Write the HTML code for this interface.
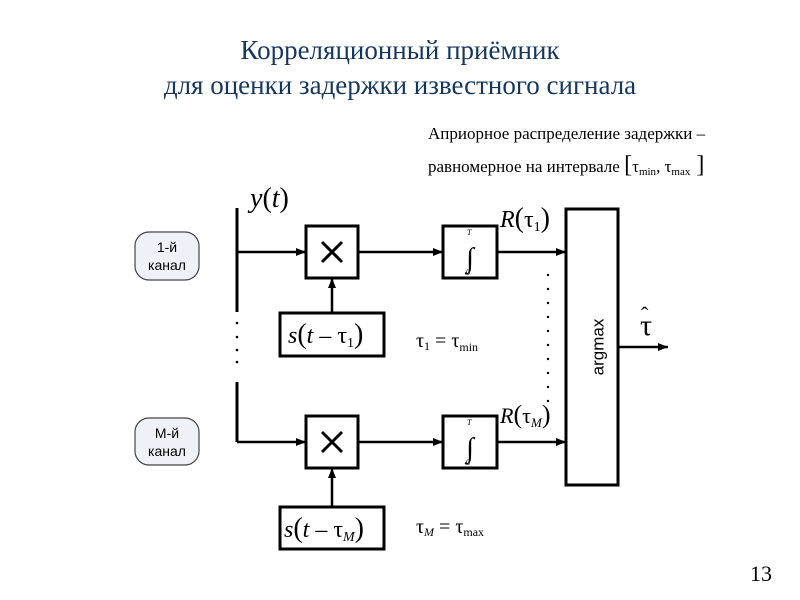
<!DOCTYPE html>
<html><head><meta charset="utf-8"><style>body{margin:0;background:#fff}svg{display:block}</style></head><body>
<svg width="800" height="600" xmlns="http://www.w3.org/2000/svg">
<defs><marker id="a" markerWidth="10" markerHeight="8" refX="10" refY="4" orient="auto" markerUnits="userSpaceOnUse"><path d="M0,0 L10,4 L0,8 z" fill="#000"/></marker></defs>
<g font-family="Liberation Serif, serif" fill="#17365d" font-size="27" text-anchor="middle">
<text x="400" y="59">Корреляционный приёмник</text>
<text x="400" y="94">для оценки задержки известного сигнала</text>
</g>
<g font-family="Liberation Serif, serif" font-size="17" fill="#000">
<text x="428" y="139">Априорное распределение задержки  –</text>
<text x="428" y="172">равномерное на интервале <tspan font-size="24">[</tspan>τ<tspan font-size="11" dy="3">min</tspan><tspan dy="-3">, τ</tspan><tspan font-size="11" dy="3">max</tspan><tspan dy="-3" font-size="24"> ]</tspan></text>
</g>
<g stroke="#000" stroke-width="3" fill="none">
<rect x="306" y="226" width="52" height="52" fill="#fff"/>
<rect x="443" y="226" width="54" height="52" fill="#fff"/>
<rect x="306" y="416" width="52" height="52" fill="#fff"/>
<rect x="443" y="416" width="54" height="52" fill="#fff"/>
<rect x="280" y="313" width="104" height="43"/>
<rect x="280" y="507" width="104" height="42"/>
<rect x="566" y="209" width="52" height="276"/>
<line x1="237" y1="208" x2="237" y2="312"/>
<line x1="237" y1="382" x2="237" y2="442"/>
</g>
<g stroke="#000" stroke-width="2.5" marker-end="url(#a)">
<line x1="237" y1="252" x2="306" y2="252"/>
<line x1="358" y1="252" x2="443" y2="252"/>
<line x1="497" y1="252" x2="566" y2="252"/>
<line x1="332" y1="313" x2="332" y2="278"/>
<line x1="237" y1="442" x2="306" y2="442"/>
<line x1="358" y1="442" x2="443" y2="442"/>
<line x1="497" y1="442" x2="566" y2="442"/>
<line x1="332" y1="507" x2="332" y2="468"/>
<line x1="618" y1="347" x2="668" y2="347"/>
</g>
<g stroke="#000" stroke-width="3">
<line x1="322" y1="242" x2="342" y2="262"/><line x1="342" y1="242" x2="322" y2="262"/>
<line x1="322" y1="432" x2="342" y2="452"/><line x1="342" y1="432" x2="322" y2="452"/>
</g>
<g fill="#000">
<circle cx="237" cy="323" r="1.3"/><circle cx="237" cy="337" r="1.3"/><circle cx="237" cy="350" r="1.3"/><circle cx="237" cy="362" r="1.3"/>
<circle cx="548" cy="275" r="1.2"/><circle cx="548" cy="289" r="1.2"/><circle cx="548" cy="303" r="1.2"/><circle cx="548" cy="317" r="1.2"/><circle cx="548" cy="331" r="1.2"/><circle cx="548" cy="345" r="1.2"/><circle cx="548" cy="359" r="1.2"/><circle cx="548" cy="373" r="1.2"/><circle cx="548" cy="387" r="1.2"/><circle cx="548" cy="401" r="1.2"/>
</g>
<g font-family="Liberation Serif, serif" fill="#000">
<text x="470" y="267" font-size="28" text-anchor="middle">∫</text>
<text x="467" y="235" font-size="8" font-style="italic">T</text><text x="466" y="275" font-size="8">0</text>
<text x="470" y="457" font-size="28" text-anchor="middle">∫</text>
<text x="467" y="425" font-size="8" font-style="italic">T</text><text x="466" y="465" font-size="8">0</text>
<text x="250" y="207" font-size="28"><tspan font-style="italic">y</tspan>(<tspan font-style="italic">t</tspan>)</text>
<text x="500" y="227" font-size="24"><tspan font-style="italic">R</tspan><tspan font-size="28">(</tspan>τ<tspan font-size="14" dy="4">1</tspan><tspan font-size="28" dy="-4">)</tspan></text>
<text x="500" y="423" font-size="22"><tspan font-style="italic">R</tspan><tspan font-size="26">(</tspan>τ<tspan font-size="13" dy="4" font-style="italic">M</tspan><tspan font-size="26" dy="-4">)</tspan></text>
<text x="288" y="343" font-size="24"><tspan font-style="italic">s</tspan><tspan font-size="28">(</tspan><tspan font-style="italic">t</tspan> – τ<tspan font-size="14" dy="4">1</tspan><tspan font-size="28" dy="-4">)</tspan></text>
<text x="284" y="537" font-size="24"><tspan font-style="italic">s</tspan><tspan font-size="28">(</tspan><tspan font-style="italic">t</tspan> – τ<tspan font-size="14" dy="4" font-style="italic">M</tspan><tspan font-size="28" dy="-4">)</tspan></text>
<text x="416" y="347" font-size="20">τ<tspan font-size="12" dy="3">1</tspan><tspan dy="-3"> = τ</tspan><tspan font-size="12" dy="4">min</tspan></text>
<text x="416" y="533" font-size="20">τ<tspan font-size="12" dy="3" font-style="italic">M</tspan><tspan dy="-3"> = τ</tspan><tspan font-size="12" dy="3">max</tspan></text>
<text x="640" y="335" font-size="30">τ</text><text x="641" y="322" font-size="22">ˆ</text>
<text x="772" y="581" font-size="22" text-anchor="end">13</text>
</g>
<text x="599" y="347" font-family="Liberation Sans, sans-serif" font-size="17" text-anchor="middle" transform="rotate(-90 599 347)" dominant-baseline="middle">argmax</text>
<g font-family="Liberation Sans, sans-serif" font-size="14" text-anchor="middle" fill="#000">
<rect x="135" y="232" width="64" height="48" rx="14" fill="#eef2f8" stroke="#444" stroke-width="1.2"/>
<text x="167" y="252">1-й</text><text x="167" y="270">канал</text>
<rect x="135" y="418" width="64" height="47" rx="14" fill="#eef2f8" stroke="#444" stroke-width="1.2"/>
<text x="167" y="438">M-й</text><text x="167" y="456">канал</text>
</g>
</svg>
</body></html>
